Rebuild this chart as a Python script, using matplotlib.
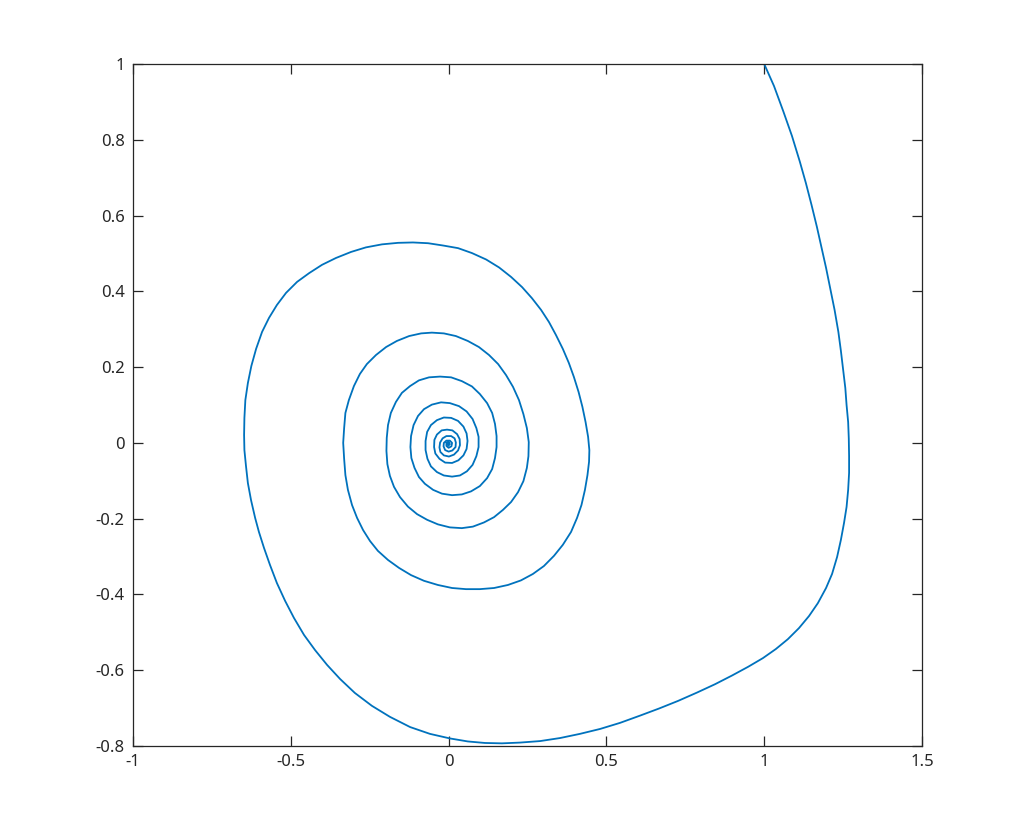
import matplotlib
matplotlib.use("Agg")
import matplotlib.pyplot as plt

plt.rcParams['font.family'] = ['Noto Sans', 'DejaVu Sans']
plt.rcParams['axes.unicode_minus'] = False

# Trajectory points (x, y)
x_vals = [
    1.000, 1.031, 1.061, 1.088, 1.113, 1.132, 1.150, 1.167, 1.182, 1.196,
    1.209, 1.223, 1.235, 1.243, 1.251, 1.257, 1.261, 1.266, 1.268, 1.269,
    1.269, 1.266, 1.261, 1.253, 1.243, 1.231, 1.215, 1.196, 1.170, 1.142,
    1.110, 1.075, 1.037, 0.996, 0.949, 0.898, 0.844, 0.787, 0.727, 0.667,
    0.606, 0.543, 0.480, 0.416, 0.353, 0.290, 0.226, 0.169, 0.115, 0.061,
    0.004, -0.059, -0.122, -0.186, -0.243, -0.297, -0.344, -0.385, -0.423, -0.458,
    -0.490, -0.518, -0.544, -0.566, -0.585, -0.601, -0.613, -0.626, -0.636, -0.642,
    -0.647, -0.648, -0.647, -0.644, -0.636, -0.625, -0.610, -0.591, -0.569, -0.544,
    -0.515, -0.480, -0.442, -0.401, -0.357, -0.309, -0.262, -0.211, -0.160, -0.113,
    -0.065, -0.018, 0.030, 0.074, 0.119, 0.160, 0.198, 0.233, 0.264, 0.293,
    0.318, 0.340, 0.362, 0.381, 0.397, 0.412, 0.424, 0.434, 0.442, 0.446,
    0.445, 0.440, 0.432, 0.421, 0.407, 0.388, 0.362, 0.334, 0.302, 0.267,
    0.229, 0.188, 0.144, 0.099, 0.055, 0.011, -0.034, -0.078, -0.119, -0.157,
    -0.192, -0.224, -0.249, -0.271, -0.290, -0.306, -0.319, -0.327, -0.331, -0.334,
    -0.331, -0.327, -0.316, -0.300, -0.281, -0.259, -0.230, -0.198, -0.164, -0.125,
    -0.087, -0.053, -0.015, 0.023, 0.061, 0.096, 0.128, 0.157, 0.182, 0.204,
    0.223, 0.237, 0.248, 0.254, 0.253, 0.248, 0.237, 0.220, 0.198, 0.172,
    0.144, 0.112, 0.077, 0.042, 0.004, -0.034, -0.068, -0.100, -0.129, -0.154,
    -0.173, -0.186, -0.194, -0.197, -0.196, -0.192, -0.183, -0.167, -0.148, -0.122,
    -0.094, -0.062, -0.027, 0.008, 0.042, 0.074, 0.099, 0.122, 0.138, 0.147,
    0.152, 0.152, 0.147, 0.138, 0.122, 0.099, 0.071, 0.042, 0.011, -0.021,
    -0.049, -0.075, -0.094, -0.108, -0.118, -0.121, -0.119, -0.111, -0.097, -0.078,
    -0.053, -0.024, 0.004, 0.033, 0.057, 0.076, 0.088, 0.095, 0.095, 0.088,
    0.076, 0.058, 0.036, 0.011, -0.015, -0.037, -0.056, -0.067, -0.073, -0.073,
    -0.068, -0.056, -0.037, -0.015, 0.008, 0.030, 0.047, 0.057, 0.060, 0.057,
    0.047, 0.031, 0.011, -0.011, -0.029, -0.042, -0.046, -0.045, -0.037, -0.022,
    -0.005, 0.012, 0.027, 0.035, 0.036, 0.030, 0.017, 0.001, -0.015, -0.026,
    -0.029, -0.027, -0.019, -0.007, 0.008, 0.019, 0.023, 0.022, 0.012, 0.000,
    -0.011, -0.016, -0.015, -0.007, 0.004, 0.011, 0.009, 0.000, -0.007, -0.007,
    0.000, 0.004, 0.000, -0.003, 0.000,
]
y_vals = [
    1.000, 0.942, 0.874, 0.810, 0.742, 0.686, 0.628, 0.570, 0.514, 0.462,
    0.408, 0.351, 0.293, 0.243, 0.188, 0.145, 0.100, 0.055, 0.012, -0.035,
    -0.079, -0.124, -0.169, -0.211, -0.256, -0.301, -0.346, -0.383, -0.423, -0.457,
    -0.489, -0.518, -0.544, -0.568, -0.591, -0.614, -0.637, -0.659, -0.681, -0.701,
    -0.720, -0.739, -0.755, -0.768, -0.779, -0.787, -0.791, -0.793, -0.792, -0.788,
    -0.780, -0.768, -0.750, -0.723, -0.694, -0.660, -0.623, -0.586, -0.547, -0.507,
    -0.462, -0.417, -0.370, -0.322, -0.277, -0.235, -0.198, -0.151, -0.106, -0.061,
    -0.019, 0.021, 0.066, 0.113, 0.158, 0.203, 0.248, 0.293, 0.330, 0.364,
    0.396, 0.425, 0.448, 0.470, 0.488, 0.504, 0.516, 0.524, 0.528, 0.529,
    0.527, 0.521, 0.514, 0.501, 0.484, 0.463, 0.438, 0.411, 0.382, 0.351,
    0.319, 0.285, 0.248, 0.211, 0.174, 0.134, 0.095, 0.055, 0.016, -0.019,
    -0.050, -0.085, -0.124, -0.164, -0.198, -0.235, -0.269, -0.298, -0.325, -0.346,
    -0.363, -0.375, -0.383, -0.386, -0.386, -0.383, -0.375, -0.364, -0.349, -0.330,
    -0.309, -0.285, -0.259, -0.230, -0.198, -0.164, -0.124, -0.085, -0.042, 0.000,
    0.039, 0.079, 0.113, 0.150, 0.182, 0.208, 0.232, 0.253, 0.269, 0.282,
    0.289, 0.291, 0.289, 0.282, 0.269, 0.253, 0.232, 0.208, 0.179, 0.148,
    0.113, 0.076, 0.039, 0.002, -0.035, -0.066, -0.101, -0.130, -0.156, -0.177,
    -0.196, -0.210, -0.221, -0.225, -0.223, -0.215, -0.203, -0.188, -0.168, -0.143,
    -0.116, -0.087, -0.056, -0.021, 0.013, 0.047, 0.079, 0.108, 0.132, 0.150,
    0.165, 0.173, 0.175, 0.173, 0.163, 0.149, 0.129, 0.105, 0.079, 0.050,
    0.018, -0.011, -0.040, -0.069, -0.093, -0.114, -0.128, -0.136, -0.138, -0.134,
    -0.124, -0.108, -0.090, -0.066, -0.040, -0.011, 0.018, 0.047, 0.071, 0.089,
    0.101, 0.107, 0.105, 0.097, 0.083, 0.063, 0.039, 0.016, -0.011, -0.035,
    -0.058, -0.075, -0.086, -0.089, -0.086, -0.077, -0.062, -0.042, -0.019, 0.005,
    0.029, 0.047, 0.060, 0.067, 0.066, 0.058, 0.043, 0.025, 0.005, -0.016,
    -0.033, -0.046, -0.053, -0.052, -0.042, -0.028, -0.011, 0.008, 0.022, 0.033,
    0.035, 0.033, 0.023, 0.010, -0.006, -0.020, -0.031, -0.036, -0.033, -0.024,
    -0.012, 0.001, 0.012, 0.018, 0.018, 0.012, 0.001, -0.011, -0.020, -0.023,
    -0.019, -0.009, 0.000, 0.006, 0.006, 0.000, -0.009, -0.013, -0.008, 0.000,
    0.002, -0.003, -0.007, -0.003, 0.000,
]

x_ticks = [-1, -0.5, 0, 0.5, 1, 1.5]
x_tick_labels = ['-1', '-0.5', '0', '0.5', '1', '1.5']
y_ticks = [-0.8, -0.6, -0.4, -0.2, 0, 0.2, 0.4, 0.6, 0.8, 1]
y_tick_labels = ['-0.8', '-0.6', '-0.4', '-0.2', '0', '0.2', '0.4', '0.6', '0.8', '1']

fig = plt.figure(figsize=(10.2, 8.4), dpi=100)
ax = fig.add_axes([133/1020, 1 - 746/840, (922 - 133)/1020, (746 - 64)/840])
ax.plot(x_vals, y_vals, color='#0072BD', linewidth=1.3, solid_joinstyle='round')

ax.set_xlim(-1, 1.5)
ax.set_ylim(-0.8, 1)
ax.set_xticks(x_ticks)
ax.set_xticklabels(x_tick_labels)
ax.set_yticks(y_ticks)
ax.set_yticklabels(y_tick_labels)

axcol = '#262626'
for s in ax.spines.values():
    s.set_color(axcol)
    s.set_linewidth(0.9)
ax.tick_params(direction='in', length=7, width=0.9, color=axcol,
               labelcolor=axcol, labelsize=12, top=True, right=True)
ax.tick_params(axis='x', pad=6)
ax.tick_params(axis='y', pad=6)

fig.savefig('out.png', dpi=100)
